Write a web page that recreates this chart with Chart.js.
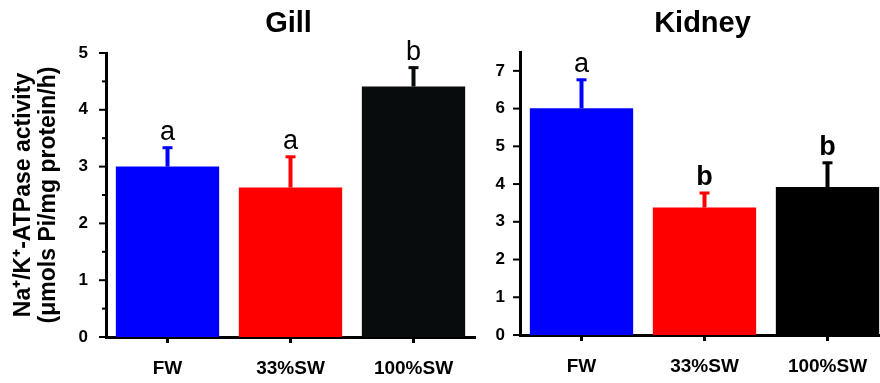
<!DOCTYPE html>
<html>
<head>
<meta charset="utf-8">
<script src="https://cdn.jsdelivr.net/npm/chart.js@4/dist/chart.umd.min.js"></script>
<style>
  html, body { margin: 0; padding: 0; background: #fff; overflow: hidden; }
  #wrap { position: relative; width: 880px; height: 383px; overflow: hidden; }
  canvas { position: absolute; top: 0; }
  #gill { left: 0; }
  #kidney { left: 440px; }
</style>
</head>
<body>
<div id="wrap">
  <canvas id="gill" width="480" height="383"></canvas>
  <canvas id="kidney" width="450" height="383"></canvas>
</div>
<script>
// groups and values
const categories = ['FW', '33%SW', '100%SW'];
const gillMeans = [3.0, 2.63, 4.41];
const gillErrors = [0.35, 0.56, 0.35];
const gillLetters = ['a', 'a', 'b'];
const kidneyMeans = [6.01, 3.38, 3.92];
const kidneyErrors = [0.78, 0.41, 0.67];
const kidneyLetters = ['a', 'b', 'b'];

const FONT = '"Liberation Sans", Arial, sans-serif';

// panel title, error bars, letters and y tick marks
const extras = {
  id: 'extras',
  afterDatasetsDraw(chart, args, opts) {
    const ctx = chart.ctx;
    const area = chart.chartArea;
    const y = chart.scales.y;
    const meta = chart.getDatasetMeta(0);
    const ds = chart.data.datasets[0];

    ctx.save();
    // y tick marks, long on integers, short on halves
    ctx.strokeStyle = '#000';
    ctx.lineWidth = 2;
    y.ticks.forEach(t => {
      const py = y.getPixelForValue(t.value);
      const len = Number.isInteger(t.value) ? 7 : 4;
      ctx.beginPath();
      ctx.moveTo(area.left - len, py);
      ctx.lineTo(area.left, py);
      ctx.stroke();
    });

    meta.data.forEach((bar, i) => {
      const top = y.getPixelForValue(ds.data[i] + opts.errors[i]);
      const color = ds.backgroundColor[i];
      ctx.strokeStyle = color;
      ctx.lineWidth = 4;
      ctx.beginPath();
      ctx.moveTo(bar.x, bar.y);
      ctx.lineTo(bar.x, top);
      ctx.stroke();
      ctx.lineWidth = 3;
      ctx.beginPath();
      ctx.moveTo(bar.x - 5, top + 1);
      ctx.lineTo(bar.x + 5, top + 1);
      ctx.stroke();

      ctx.fillStyle = '#000';
      ctx.textAlign = 'center';
      ctx.textBaseline = 'alphabetic';
      ctx.font = (opts.bold[i] ? 'bold ' : '') + '27px ' + FONT;
      ctx.fillText(opts.letters[i], bar.x, top - 7);
    });

    ctx.font = 'bold 29px ' + FONT;
    ctx.fillStyle = '#000';
    ctx.textAlign = 'center';
    ctx.textBaseline = 'middle';
    ctx.fillText(opts.title, (area.left + area.right) / 2 - 2, 24);
    ctx.restore();
  }
};

function makePanel(canvasId, title, means, errors, letters, bold, colors, yMax, yWidth, tickPad, pad, yTitle) {
  const ctx = document.getElementById(canvasId).getContext('2d');
  return new Chart(ctx, {
    type: 'bar',
    data: {
      labels: categories,
      datasets: [{
        data: means,
        backgroundColor: colors,
        borderWidth: 0,
        barPercentage: 0.84,
        categoryPercentage: 1
      }]
    },
    options: {
      responsive: false,
      animation: false,
      devicePixelRatio: 1,
      layout: { padding: pad },
      plugins: {
        legend: { display: false },
        tooltip: { enabled: false },
        extras: { title: title, errors: errors, letters: letters, bold: bold }
      },
      scales: {
        x: {
          grid: { display: true, drawOnChartArea: false, offset: false, tickLength: 6, tickWidth: 3, tickColor: '#000' },
          border: { display: true, color: '#000', width: 3 },
          ticks: { color: '#000', padding: 14, font: { family: FONT, size: 19, weight: 'bold' } },
          afterFit(s) { s.height = 383 - pad.top - (yMax === 5 ? 284 : 283); }
        },
        y: {
          min: 0,
          max: yMax,
          grid: { display: false },
          border: { display: true, color: '#000', width: 3 },
          ticks: {
            stepSize: 0.5,
            includeBounds: false,
            color: '#000',
            padding: tickPad,
            font: { family: FONT, size: 17, weight: 'bold' },
            callback: v => Number.isInteger(v) ? v : ''
          },
          title: yTitle ? {
            display: true,
            text: yTitle,
            color: '#000',
            padding: { top: 11, bottom: 0 },
            font: { family: FONT, size: 23, weight: 'bold', lineHeight: 1.1 }
          } : { display: false },
          afterFit(s) { s.width = yWidth; }
        }
      }
    },
    plugins: [extras]
  });
}

makePanel('gill', 'Gill', gillMeans, gillErrors, gillLetters, [false, false, false],
  ['#0000ff', '#ff0000', '#080c0c'], 5, 106, 10, { top: 53, right: 5, left: 0, bottom: 0 },
  ['Na\u207A/K\u207A-ATPase activity', '(\u03BCmols Pi/mg protein/h)']);

makePanel('kidney', 'Kidney', kidneyMeans, kidneyErrors, kidneyLetters, [false, true, true],
  ['#0000ff', '#ff0000', '#000000'], 7.5, 80, 7, { top: 52, right: 1, left: 0, bottom: 0 },
  null);
</script>
</body>
</html>
